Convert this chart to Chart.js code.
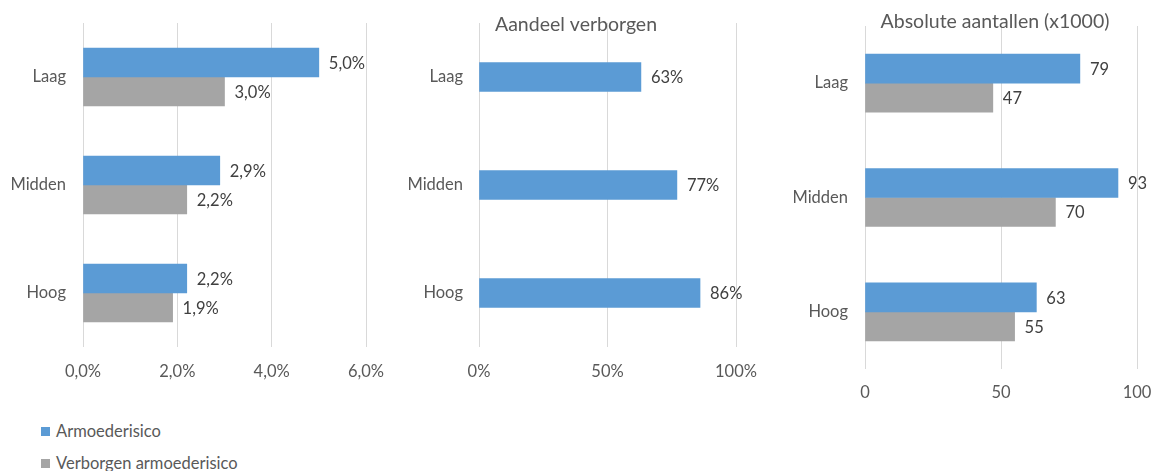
<!DOCTYPE html>
<html>
<head>
<meta charset="utf-8">
<script src="https://cdn.jsdelivr.net/npm/chart.js@4/dist/chart.umd.min.js"></script>
<style>
  body { margin: 0; background: #fff; width: 1156px; height: 471px; position: relative; overflow: hidden; font-family: Lato, sans-serif; }
  canvas { position: absolute; top: 0; }
  #legend { position: absolute; left: 41px; top: 420px; color: #595959; font-size: 16.5px; }
  #legend div { height: 32px; line-height: 22px; display: flex; align-items: flex-start; }
  #legend span.sw { display: inline-block; width: 9px; height: 9px; margin: 7px 6px 0 0; }
</style>
</head>
<body>
<canvas id="risk" width="400" height="400" style="left:0"></canvas>
<canvas id="share" width="380" height="400" style="left:400px"></canvas>
<canvas id="counts" width="376" height="420" style="left:780px"></canvas>
<div id="legend"></div>

<script>
const categories = ["Laag", "Midden", "Hoog"];
const seriesNames = ["Armoederisico", "Verborgen armoederisico"];

// percentages of households
const riskPct = [5.0, 2.9, 2.2];
const hiddenRiskPct = [3.0, 2.2, 1.9];

// share of the risk that is hidden
const hiddenShare = [63, 77, 86];

// absolute numbers, x1000
const riskCount = [79, 93, 63];
const hiddenRiskCount = [47, 70, 55];

const blue = "#5B9BD5";
const grey = "#A5A5A5";
const tickColor = "#595959";
const gridColor = "#D9D9D9";
const fontFamily = "Lato, sans-serif";

Chart.defaults.font.family = fontFamily;
Chart.defaults.font.size = 16.5;
Chart.defaults.color = tickColor;

const pctComma = (v) => v.toFixed(1).replace(".", ",") + "%";

// value text next to the end of each bar
const barValueLabels = {
  id: "barValueLabels",
  afterDatasetsDraw(chart, args, opts) {
    const { ctx } = chart;
    ctx.save();
    ctx.font = "16.5px " + fontFamily;
    ctx.fillStyle = "#404040";
    ctx.textAlign = "left";
    ctx.textBaseline = "middle";
    chart.data.datasets.forEach((ds, i) => {
      chart.getDatasetMeta(i).data.forEach((bar, j) => {
        ctx.fillText(opts.format(ds.data[j]), bar.x + 10, bar.y + 1);
      });
    });
    ctx.restore();
  },
};

// panel heading, drawn over the top of the plot
const panelTitle = {
  id: "panelTitle",
  afterDraw(chart, args, opts) {
    if (!opts.text) return;
    const { ctx } = chart;
    ctx.save();
    ctx.font = "19.5px " + fontFamily;
    ctx.fillStyle = tickColor;
    ctx.textAlign = "center";
    ctx.textBaseline = "alphabetic";
    ctx.fillText(opts.text, opts.x, opts.y);
    ctx.restore();
  },
};

function makePanel(id, datasets, cfg) {
  return new Chart(document.getElementById(id), {
    type: "bar",
    data: { labels: categories, datasets: datasets },
    plugins: [barValueLabels, panelTitle],
    options: {
      indexAxis: "y",
      responsive: false,
      animation: false,
      layout: { padding: cfg.padding },
      datasets: { bar: { barThickness: 29 } },
      scales: {
        y: {
          grid: { display: false, drawTicks: false },
          border: { display: false },
          ticks: { padding: cfg.yPad, color: tickColor },
          afterFit: (s) => { s.width = cfg.yWidth; s.paddingTop = 0; s.paddingBottom = 0; },
        },
        x: {
          min: 0,
          max: cfg.max,
          grid: { color: gridColor, drawTicks: false },
          border: { display: false },
          ticks: { stepSize: cfg.step, padding: cfg.xPad, color: tickColor, callback: cfg.tick },
          afterFit: (s) => { s.height = cfg.xHeight; s.paddingLeft = 0; s.paddingRight = 0; },
        },
      },
      plugins: {
        legend: { display: false },
        tooltip: { enabled: false },
        barValueLabels: { format: cfg.label },
        panelTitle: cfg.title || {},
      },
    },
  });
}

makePanel("risk", [
  { label: seriesNames[0], data: riskPct, backgroundColor: blue },
  { label: seriesNames[1], data: hiddenRiskPct, backgroundColor: grey },
], {
  padding: { top: 23, right: 34, bottom: 0, left: 0 },
  yWidth: 83, yPad: 17, xHeight: 53, xPad: 15,
  max: 6, step: 2, tick: (v) => pctComma(v), label: pctComma,
});

makePanel("share", [
  { label: "Aandeel verborgen", data: hiddenShare, backgroundColor: blue },
], {
  padding: { top: 23, right: 44, bottom: 0, left: 0 },
  yWidth: 79, yPad: 16, xHeight: 53, xPad: 15,
  max: 100, step: 50, tick: (v) => v + "%", label: (v) => v + "%",
  title: { text: "Aandeel verborgen", x: 176, y: 31 },
});

makePanel("counts", [
  { label: seriesNames[0], data: riskCount, backgroundColor: blue },
  { label: seriesNames[1], data: hiddenRiskCount, backgroundColor: grey },
], {
  padding: { top: 26, right: 19, bottom: 0, left: 0 },
  yWidth: 85, yPad: 17, xHeight: 51, xPad: 14,
  max: 100, step: 50, tick: (v) => v, label: (v) => String(v),
  title: { text: "Absolute aantallen (x1000)", x: 215, y: 28 },
});

// legend under the first panel
const legend = document.getElementById("legend");
[blue, grey].forEach((c, i) => {
  const row = document.createElement("div");
  row.innerHTML = '<span class="sw" style="background:' + c + '"></span>' + seriesNames[i];
  legend.appendChild(row);
});
</script>
</body>
</html>
